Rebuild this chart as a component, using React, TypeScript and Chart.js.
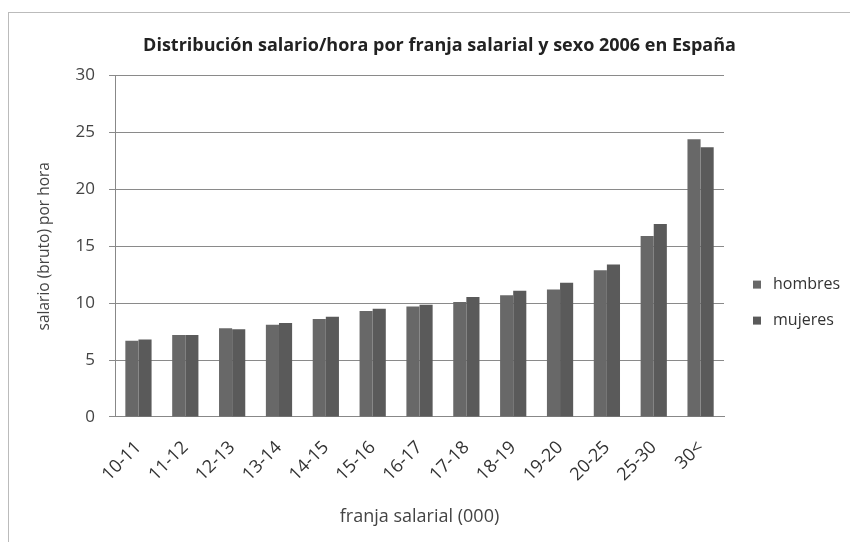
import React, { useEffect, useRef } from 'react';
import { Chart, registerables } from 'chart.js';

Chart.register(...registerables);

const titleText = 'Distribución salario/hora por franja salarial y sexo 2006 en España';
const xTitle = 'franja salarial (000)';
const yTitle = 'salario (bruto) por hora';

const categories = ['10-11', '11-12', '12-13', '13-14', '14-15', '15-16', '16-17', '17-18', '18-19', '19-20', '20-25', '25-30', '30<'];
const hombres = [6.7, 7.2, 7.8, 8.1, 8.6, 9.3, 9.7, 10.1, 10.7, 11.2, 12.9, 15.9, 24.4];
const mujeres = [6.8, 7.2, 7.7, 8.25, 8.8, 9.5, 9.85, 10.55, 11.1, 11.8, 13.4, 16.95, 23.7];
const seriesNames = ['hombres', 'mujeres'];
const seriesColors = ['#686868', '#5a5a5a'];
const yMin = 0;
const yMax = 30;
const yStep = 5;

const FONT = '"Open Sans", Lato, sans-serif';

const sideLegend = {
  id: 'sideLegend',
  afterDraw(chart: any) {
    const { ctx, chartArea } = chart;
    ctx.save();
    ctx.font = `16px ${FONT}`;
    ctx.textBaseline = 'middle';
    chart.data.datasets.forEach((ds: any, i: number) => {
      const x = chartArea.right + 29;
      const y = chartArea.top + 209 + i * 36;
      ctx.fillStyle = ds.backgroundColor;
      ctx.fillRect(x, y - 4, 8, 8);
      ctx.fillStyle = '#333';
      ctx.fillText(ds.label, x + 20, y);
    });
    ctx.restore();
  },
};

export default function App() {
  const ref = useRef<HTMLCanvasElement | null>(null);
  useEffect(() => {
    if (!ref.current) return;
    const chart = new Chart(ref.current, {
      type: 'bar',
      data: {
        labels: categories,
        datasets: [
          { label: seriesNames[0], data: hombres, backgroundColor: seriesColors[0], borderWidth: 0, categoryPercentage: 0.56, barPercentage: 1 },
          { label: seriesNames[1], data: mujeres, backgroundColor: seriesColors[1], borderWidth: 0, categoryPercentage: 0.56, barPercentage: 1 },
        ],
      },
      options: {
        animation: false,
        responsive: true,
        maintainAspectRatio: false,
        layout: { padding: { left: 26, right: 6, top: 0, bottom: 14 } },
        plugins: {
          legend: { display: false },
          tooltip: { enabled: false },
          title: {
            display: true,
            text: titleText,
            color: '#222',
            font: { family: FONT, size: 18, weight: 'bold' },
            padding: { top: 22, bottom: 19 },
          },
        },
        scales: {
          x: {
            grid: { display: false, drawTicks: false },
            border: { display: true, color: '#888', width: 1 },
            ticks: {
              maxRotation: 45,
              minRotation: 45,
              color: '#333',
              padding: 20,
              font: { family: FONT, size: 18 },
            },
            title: {
              display: true,
              text: xTitle,
              color: '#444',
              font: { family: FONT, size: 18 },
              padding: { top: 1, bottom: 0 },
            },
          },
          y: {
            min: yMin,
            max: yMax,
            ticks: { stepSize: yStep, color: '#444', padding: 14, font: { family: FONT, size: 17 } },
            grid: { color: '#8a8a8a', lineWidth: 1, tickLength: 6, drawTicks: true },
            border: { display: true, color: '#888', width: 1 },
            title: {
              display: true,
              text: yTitle,
              color: '#444',
              font: { family: FONT, size: 15.5 },
              padding: { top: 0, bottom: 8 },
            },
          },
          legendSpace: {
            type: 'linear',
            position: 'right',
            display: true,
            grid: { display: false, drawTicks: false },
            border: { display: false },
            ticks: { display: false },
            afterFit(scale: any) {
              scale.width = 120;
            },
          },
        },
      },
      plugins: [sideLegend],
    });
    return () => chart.destroy();
  }, []);

  return (
    <div style={{ position: 'absolute', left: 8, top: 12, width: 842, height: 530, borderLeft: '1px solid #bbb', borderTop: '1px solid #bbb', background: '#fff', boxSizing: 'border-box' }}>
      <canvas ref={ref} />
    </div>
  );
}
